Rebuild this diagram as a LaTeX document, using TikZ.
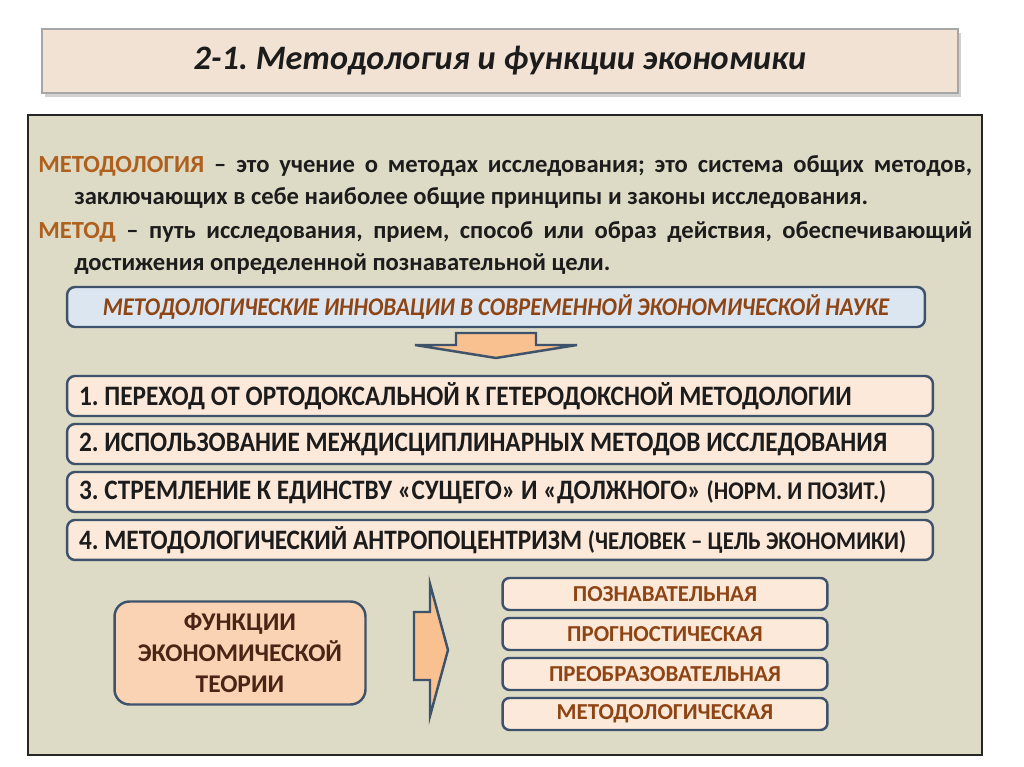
\documentclass[tikz,border=0pt]{standalone}
\usepackage{fontspec}
\setmainfont{Carlito}
\newfontfamily\narrowfont[FakeStretch=0.9]{Carlito}
\usepackage{xcolor}
\usetikzlibrary{positioning}
\usetikzlibrary{shadows}
\frenchspacing

\definecolor{panelfill}{HTML}{DDDBC6}
\definecolor{titlefill}{HTML}{F2E2D4}
\definecolor{boxfill}{HTML}{FCE9DA}
\definecolor{bluefill}{HTML}{DCE6F1}
\definecolor{framecol}{HTML}{3E536B}
\definecolor{arrowfill}{HTML}{F9C18F}
\definecolor{peachfill}{HTML}{F9D3B3}
\definecolor{termcol}{HTML}{B0601E}
\definecolor{labelcol}{HTML}{8E4413}
\definecolor{darkbrown}{HTML}{4A2414}
\definecolor{textcol}{HTML}{1C1C1C}

\tikzset{
  innobox/.style={draw=framecol, line width=1.4pt, rounded corners=0.16cm, fill=boxfill,
    minimum height=0.8cm, text width=16.84cm, inner xsep=0.24cm, inner ysep=0pt,
    outer sep=0pt, align=left,
    execute at begin node={\spaceskip=0pt\relax\xspaceskip=0pt\relax},
    font=\narrowfont\fontsize{16}{18}\selectfont\bfseries, text=textcol},
  funcbox/.style={draw=framecol, line width=1.4pt, rounded corners=0.14cm, fill=boxfill,
    minimum height=0.64cm, minimum width=6.5cm, inner ysep=0pt, outer sep=0pt,
    font=\fontsize{13}{15}\selectfont\bfseries, text=labelcol},
  shape arrow/.style={draw=framecol, line width=1.4pt, fill=arrowfill, line join=miter}
}

\begin{document}
\begin{tikzpicture}[x=0.02cm, y=-0.02cm]
  \useasboundingbox (0,0) rectangle (1024,767);
  \fill[white] (0,0) rectangle (1024,767);

  % title
  \node (title) [draw=black!35, line width=0.8pt, fill=titlefill,
    minimum width=18.32cm, minimum height=1.28cm,
    drop shadow={shadow xshift=1.5pt, shadow yshift=-2pt, fill=black!35},
    font=\fontsize{19.5}{24}\selectfont\bfseries\itshape, text=textcol]
    at (500,61) {2-1. Методология и функции экономики};

  % main panel
  \node (panel) [draw=black!85, line width=1.5pt, fill=panelfill,
    minimum width=19.08cm, minimum height=12.8cm] at (505,435) {};

  % definitions
  \node (defs) [anchor=north west, text width=18.68cm, align=justify, inner sep=0pt,
    font=\fontsize{14}{16}\selectfont\bfseries, text=textcol] at (38,155) {%
    \setlength{\baselineskip}{18.2pt}%
    \hangindent=0.72cm \hangafter=1
    {\color{termcol}МЕТОДОЛОГИЯ} – это учение о методах исследования; это система общих методов, заключающих в себе наиболее общие принципы и законы исследования.\par
    \vspace{1.5pt}%
    \hangindent=0.72cm \hangafter=1
    {\color{termcol}МЕТОД} – путь исследования, прием, способ или образ действия, обеспечивающий достижения определенной познавательной цели.\par};

  % innovations
  \node (innov) [draw=framecol, line width=1.4pt, rounded corners=0.16cm, fill=bluefill,
    minimum width=17.16cm, minimum height=0.8cm,
    font=\narrowfont\fontsize{14.5}{16}\selectfont\bfseries\itshape, text=labelcol]
    at (496,307) {МЕТОДОЛОГИЧЕСКИЕ ИННОВАЦИИ В СОВРЕМЕННОЙ ЭКОНОМИЧЕСКОЙ НАУКЕ};

  \draw[shape arrow] (456,333) -- (536,333) -- (536,345) -- (577,345) -- (496,358)
    -- (415,345) -- (456,345) -- cycle;

  \node (step1) [innobox] at (500,396)
    {1. ПЕРЕХОД ОТ ОРТОДОКСАЛЬНОЙ К ГЕТЕРОДОКСНОЙ МЕТОДОЛОГИИ};
  \node (step2) [innobox, below=0.16cm of step1]
    {2. ИСПОЛЬЗОВАНИЕ МЕЖДИСЦИПЛИНАРНЫХ МЕТОДОВ ИССЛЕДОВАНИЯ};
  \node (step3) [innobox, below=0.16cm of step2]
    {3. СТРЕМЛЕНИЕ К ЕДИНСТВУ «СУЩЕГО» И «ДОЛЖНОГО» {\fontsize{14.5}{16}\selectfont (НОРМ. И ПОЗИТ.)}};
  \node (step4) [innobox, below=0.16cm of step3]
    {4. МЕТОДОЛОГИЧЕСКИЙ АНТРОПОЦЕНТРИЗМ {\fontsize{14.5}{16}\selectfont (ЧЕЛОВЕК – ЦЕЛЬ ЭКОНОМИКИ)}};

  % functions
  \node (func) [draw=framecol, line width=1.4pt, rounded corners=0.3cm, fill=peachfill,
    minimum width=5.02cm, minimum height=2.06cm, align=center,
    font=\fontsize{14.5}{17.5}\selectfont\bfseries, text=darkbrown]
    at (240,653) {ФУНКЦИИ\\ЭКОНОМИЧЕСКОЙ\\ТЕОРИИ};

  \draw[shape arrow] (414,612) -- (430,612) -- (430,584) -- (448,650) -- (430,716)
    -- (430,680) -- (414,680) -- cycle;

  \node (cogn) [funcbox] at (665,594) {ПОЗНАВАТЕЛЬНАЯ};
  \node (prog) [funcbox, below=0.16cm of cogn] {ПРОГНОСТИЧЕСКАЯ};
  \node (trans) [funcbox, below=0.16cm of prog] {ПРЕОБРАЗОВАТЕЛЬНАЯ};
  \node (meth) [funcbox, below=0.16cm of trans] {МЕТОДОЛОГИЧЕСКАЯ};
\end{tikzpicture}
\end{document}
